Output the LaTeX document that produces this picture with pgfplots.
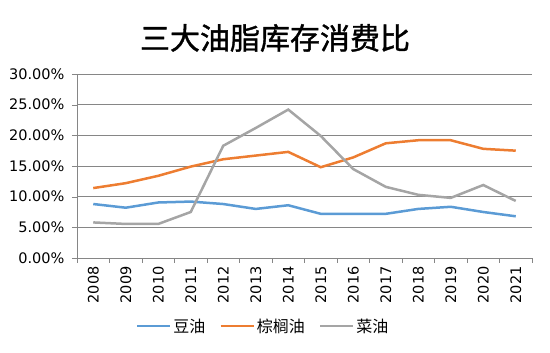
\documentclass[border=0pt]{standalone}
\usepackage{fontspec}
\setmainfont{DejaVu Sans}
\newfontfamily\cjk{Noto Sans CJK SC}
\newfontfamily\cjkt[FakeBold=1.2]{Noto Sans CJK SC}
\usepackage{pgfplots}
\pgfplotsset{compat=1.18}
\definecolor{sblue}{HTML}{5B9BD5}
\definecolor{sorange}{HTML}{ED7D31}
\definecolor{sgray}{HTML}{A5A5A5}
\definecolor{gridc}{HTML}{868686}
\begin{document}
\begin{tikzpicture}[x=1pt,y=1pt]
\useasboundingbox (0,0) rectangle (550,353);
\node[font=\cjkt\fontsize{30}{34}\selectfont] at (275,315) {三大油脂库存消费比};
\begin{axis}[
  at={(77pt,95pt)}, anchor=south west,
  scale only axis, width=455pt, height=184pt,
  xmin=-0.5, xmax=13.5, ymin=0, ymax=30,
  xtick={0,...,13},
  xticklabels={2008,2009,2010,2011,2012,2013,2014,2015,2016,2017,2018,2019,2020,2021},
  minor xtick={-0.5,0.5,...,13.5},
  major x tick style={draw=none},
  minor x tick style={draw=gridc},
  minor tick length=5pt,
  ytick={0,5,...,30},
  yticklabels={0.00\%,5.00\%,10.00\%,15.00\%,20.00\%,25.00\%,30.00\%},
  ytick style={draw=gridc},
  major tick length=5pt,
  tick align=outside,
  ymajorgrids, grid style={gridc, line width=0.8pt},
  axis x line*=bottom, axis y line*=left,
  axis line style={gridc, line width=0.6pt},
  x axis line style={-}, y axis line style={-},
  ticklabel style={font=\fontsize{14.5}{16}\selectfont},
  xticklabel style={rotate=90, anchor=east},
  yticklabel style={xshift=-4pt},
  /pgf/number format/assume math mode=true,
  legend columns=3,
  legend style={draw=none, at={(0.409,-0.37)}, anchor=center,
    font=\cjk\fontsize{16}{18}\selectfont,
    /tikz/every even column/.append style={column sep=12pt}},
  legend image code/.code={\draw[#1, line width=2.5pt] (0,0) -- (33pt,0);},
]
\addplot[sblue, line width=2.5pt] coordinates {(0,8.8)(1,8.2)(2,9.05)(3,9.2)(4,8.8)(5,8.0)(6,8.6)(7,7.2)(8,7.2)(9,7.2)(10,8.0)(11,8.35)(12,7.5)(13,6.8)};
\addlegendentry{豆油}
\addplot[sorange, line width=2.5pt] coordinates {(0,11.4)(1,12.2)(2,13.4)(3,14.9)(4,16.1)(5,16.7)(6,17.3)(7,14.8)(8,16.4)(9,18.7)(10,19.2)(11,19.2)(12,17.8)(13,17.5)};
\addlegendentry{棕榈油}
\addplot[sgray, line width=2.5pt] coordinates {(0,5.8)(1,5.55)(2,5.55)(3,7.5)(4,18.3)(5,21.2)(6,24.2)(7,19.9)(8,14.5)(9,11.6)(10,10.3)(11,9.8)(12,11.9)(13,9.3)};
\addlegendentry{菜油}
\end{axis}
\end{tikzpicture}
\end{document}
